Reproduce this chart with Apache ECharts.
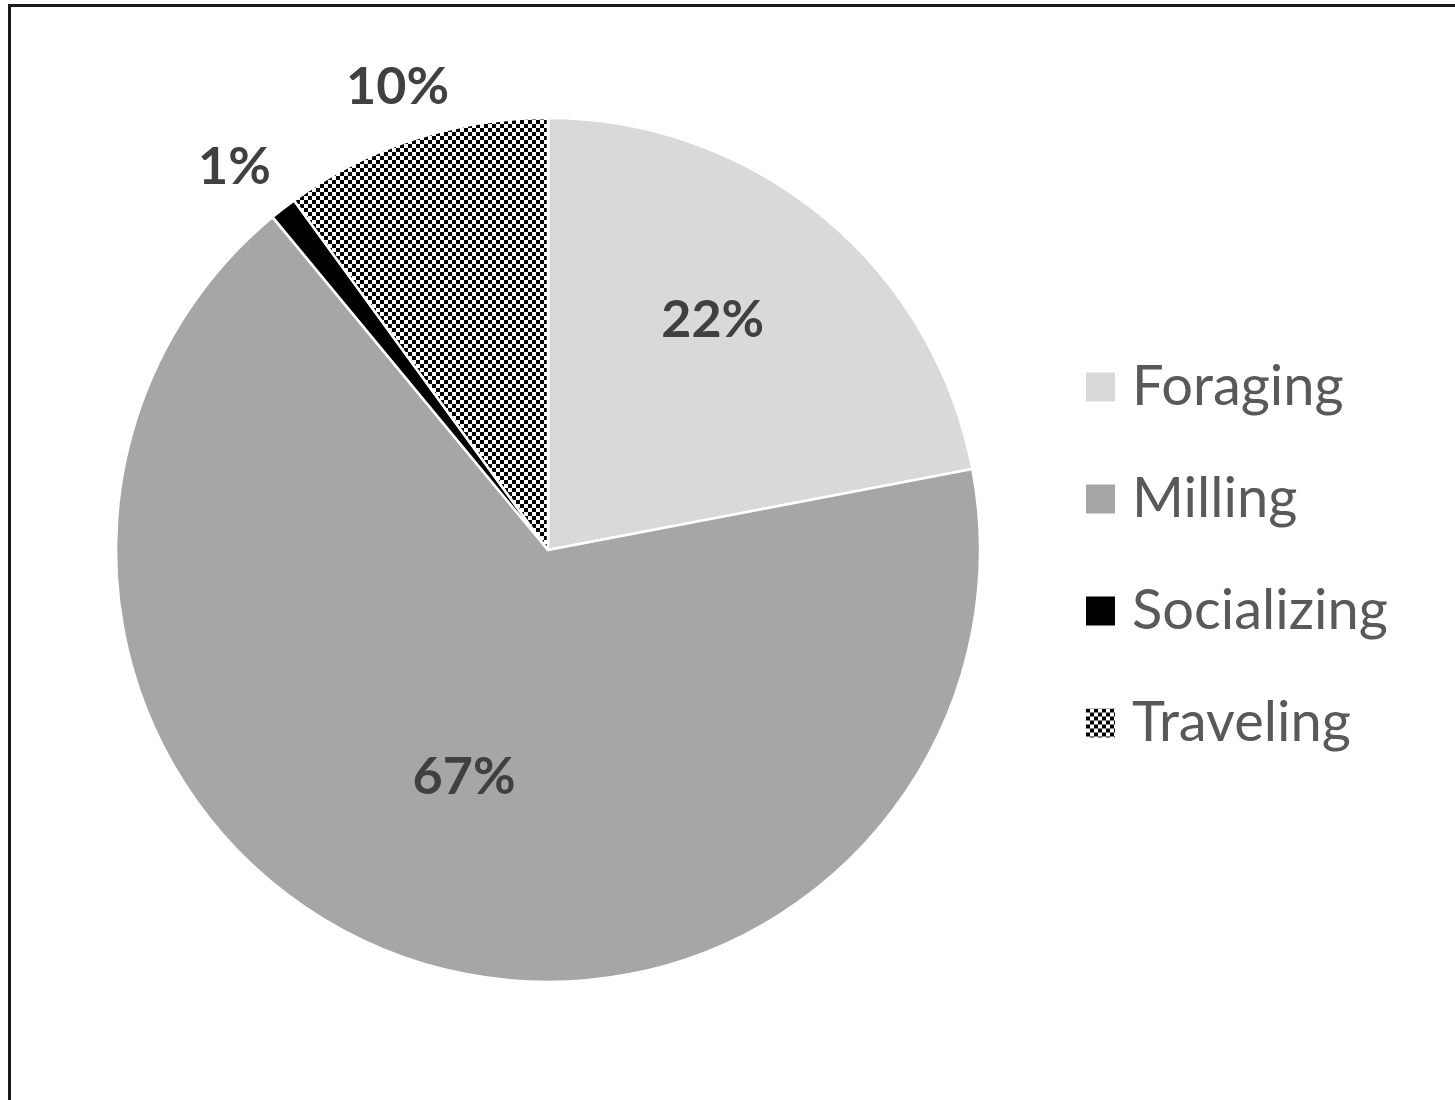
<!DOCTYPE html>
<html>
<head>
<meta charset="utf-8">
<script src="https://cdn.jsdelivr.net/npm/echarts@6/dist/echarts.min.js"></script>
<style>
html,body{margin:0;padding:0;background:#fff;}
#chart{position:absolute;left:0;top:0;width:1455px;height:1100px;}
#frame{position:absolute;left:8px;top:4px;width:1460px;height:1110px;border-top:3px solid #1a1a1a;border-left:3px solid #1a1a1a;pointer-events:none;}
</style>
</head>
<body>
<div id="chart"></div>
<div id="frame"></div>
<script>
// Data
const categories = ['Foraging', 'Milling', 'Socializing', 'Traveling'];
const values = [22, 67, 1, 10];
const labelTexts = ['22%', '67%', '1%', '10%'];

// Style
const CENTER = [548, 550];
const RADIUS = 432;
const labelDist = [0.655, 0.56, 1.146, 1.127];
const labelAngleShift = [-4, 0.5, -1.5, 0]; // degrees

function checker(cell) {
  const c = document.createElement('canvas');
  c.width = cell * 2; c.height = cell * 2;
  const ctx = c.getContext('2d');
  ctx.fillStyle = '#fff';
  ctx.fillRect(0, 0, cell * 2, cell * 2);
  ctx.fillStyle = '#000';
  ctx.fillRect(0, 0, cell, cell);
  ctx.fillRect(cell, cell, cell, cell);
  return c;
}
const pattern = { image: checker(4), repeat: 'repeat' };
const colors = ['#d9d9d9', '#a6a6a6', '#000000', pattern];

const total = values.reduce((a, b) => a + b, 0);
const midAngles = [];
let cum = 0;
values.forEach((v, i) => {
  midAngles.push((cum + v / 2) / total * 2 * Math.PI + labelAngleShift[i] * Math.PI / 180);
  cum += v;
});

const chart = echarts.init(document.getElementById('chart'), null, { renderer: 'canvas' });
chart.setOption({
  backgroundColor: '#ffffff',
  animation: false,
  legend: {
    orient: 'vertical',
    left: 1081,
    top: 354,
    padding: 5,
    itemWidth: 29,
    itemHeight: 29,
    itemGap: 56,
    icon: 'rect',
    itemStyle: { borderWidth: 0 },
    textStyle: { fontFamily: 'Lato', fontSize: 56, color: '#595959', padding: [0, 0, 0, 12], lineHeight: 56 },
    data: categories
  },
  series: [{
    type: 'pie',
    center: CENTER,
    radius: RADIUS,
    startAngle: 90,
    clockwise: true,
    avoidLabelOverlap: false,
    itemStyle: { borderColor: '#ffffff', borderWidth: 2.5 },
    label: {
      show: true,
      position: 'inside',
      formatter: p => labelTexts[p.dataIndex],
      fontFamily: 'Lato',
      fontWeight: 'bold',
      fontSize: 52,
      color: '#404040'
    },
    labelLine: { show: false },
    labelLayout: function (p) {
      const i = p.dataIndex;
      const a = midAngles[i];
      const r = RADIUS * labelDist[i];
      return {
        x: CENTER[0] + r * Math.sin(a),
        y: CENTER[1] - r * Math.cos(a),
        align: 'center',
        verticalAlign: 'middle'
      };
    },
    emphasis: { disabled: true },
    data: categories.map((c, i) => ({ name: c, value: values[i], itemStyle: { color: colors[i] } }))
  }]
});
</script>
</body>
</html>
